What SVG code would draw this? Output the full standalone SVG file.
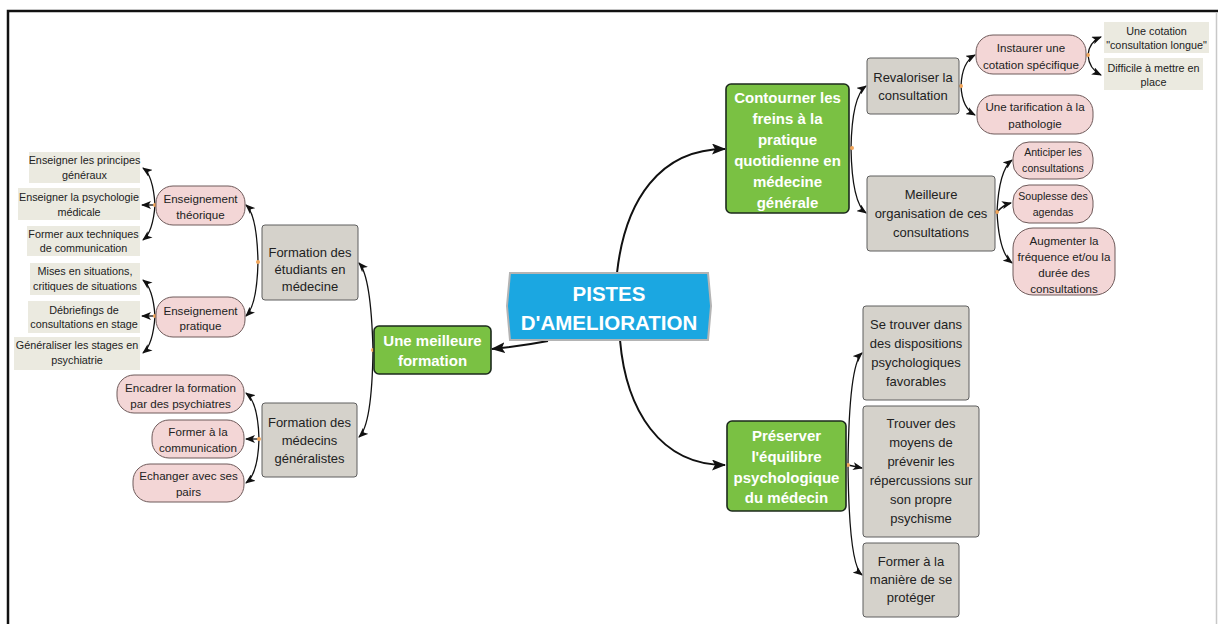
<svg xmlns="http://www.w3.org/2000/svg" width="1218" height="624" viewBox="0 0 1218 624">
<style>
text{font-family:"Liberation Sans",Arial,sans-serif;text-anchor:middle;dominant-baseline:central}
.g rect{fill:#7ac143;stroke:#1c2a1c;stroke-width:1.6}
.g text{fill:#fff;font-weight:bold;font-size:15px}
.b text{fill:#fff;font-weight:bold;font-size:20.5px}
.gr rect{fill:#d5d2cb;stroke:#5e5e5e;stroke-width:1}
.gr text{fill:#222;font-size:13px}
.p rect{fill:#f3d6d6;stroke:#6e5a5a;stroke-width:1}
.p text{fill:#222;font-size:11.6px}
.p.s text{font-size:10.6px}
.l rect{fill:#ebeae0}
.l text{fill:#222;font-size:10.8px}
.c path{fill:none;stroke:#111;stroke-width:1.3;marker-end:url(#a)}
.c path.m{stroke-width:2;marker-end:url(#am)}
.c circle{fill:#f2a65a}
</style>
<defs>
<marker id="a" markerUnits="userSpaceOnUse" markerWidth="10" markerHeight="8" refX="9" refY="4" orient="auto"><path d="M0,0 L10,4 L0,8 L2.5,4 z" fill="#111"/></marker>
<marker id="am" markerUnits="userSpaceOnUse" markerWidth="14" markerHeight="11" refX="13" refY="5.5" orient="auto"><path d="M0,0 L14,5.5 L0,11 L3,5.5 z" fill="#111"/></marker>
</defs>
<rect width="1218" height="624" fill="#fff"/>
<path d="M8,624 L8,11 L1218,11" fill="none" stroke="#111" stroke-width="2.5"/>
<path d="M1216.5,12 L1216.5,624" fill="none" stroke="#c8c8c8" stroke-width="1.5"/>

<g class="c" id="connectors">
<path class="m" d="M617,273 C625,200 660,149 725,149"/>
<path class="m" d="M620,340 C626,410 660,465 725,465"/>
<path class="m" d="M548,341 Q522,346 492,349"/>
<path d="M373,350 Q371,276 359,263"/>
<path d="M373,350 Q372,425 359,437"/>
<path d="M258,262 Q257,215 246,205"/>
<path d="M258,262 Q257,305 246,316"/>
<path d="M155,205 Q153,175 143,168"/>
<path d="M155,205 L142,205"/>
<path d="M155,205 Q153,232 143,240"/>
<path d="M155,316 Q153,288 143,280"/>
<path d="M155,316 L142,316"/>
<path d="M155,316 Q153,345 143,353"/>
<path d="M259,439 Q258,402 246,393"/>
<path d="M259,439 L246,439"/>
<path d="M259,439 Q258,474 246,483"/>
<path d="M851,148 Q852,96 866,86"/>
<path d="M851,148 Q852,203 866,213"/>
<path d="M961,86 Q962,62 975,55"/>
<path d="M961,86 Q962,108 975,115"/>
<path d="M1088,55 Q1089,42 1101,37"/>
<path d="M1088,55 Q1089,69 1101,75"/>
<path d="M997,212 Q999,170 1012,160"/>
<path d="M997,212 Q1003,205 1011,203"/>
<path d="M997,212 Q999,253 1012,263"/>
<path d="M848,465 Q849,365 862,353"/>
<path d="M848,465 L862,468"/>
<path d="M848,465 Q849,565 862,575"/>
<circle cx="373" cy="350" r="2"/>
<circle cx="258" cy="262" r="2"/>
<circle cx="155" cy="205" r="2"/>
<circle cx="155" cy="316" r="2"/>
<circle cx="259" cy="439" r="2"/>
<circle cx="852" cy="148" r="2"/>
<circle cx="961" cy="86" r="2"/>
<circle cx="1088" cy="55" r="2"/>
<circle cx="997" cy="212" r="2"/>
<circle cx="848" cy="465" r="2"/>
</g>

<g id="center" class="b">
<polygon points="510,273 708,273 711,306 708,340 510,340 507,306" fill="#1ba7e1" stroke="#b4b4b4" stroke-width="2"/>
<text x="609" y="293">PISTES</text>
<text x="609" y="322">D'AMELIORATION</text>
</g>

<g id="formation" class="g">
<rect x="374" y="326" width="117" height="48" rx="5"/>
<text x="432.5" y="340">Une meilleure</text>
<text x="432.5" y="360">formation</text>
</g>
<g id="contourner" class="g">
<rect x="726" y="84" width="123" height="129" rx="5"/>
<text x="787.5" y="97">Contourner les</text>
<text x="787.5" y="118">freins à la</text>
<text x="787.5" y="139">pratique</text>
<text x="787.5" y="160">quotidienne en</text>
<text x="787.5" y="181">médecine</text>
<text x="787.5" y="202">générale</text>
</g>
<g id="preserver" class="g">
<rect x="727" y="421" width="119" height="90" rx="5"/>
<text x="786.5" y="435">Préserver</text>
<text x="786.5" y="456">l'équilibre</text>
<text x="786.5" y="477">psychologique</text>
<text x="786.5" y="497">du médecin</text>
</g>

<g id="etudiants" class="gr">
<rect x="262" y="225" width="96" height="75" rx="3"/>
<text x="310" y="252">Formation des</text>
<text x="310" y="269">étudiants en</text>
<text x="310" y="286">médecine</text>
</g>
<g id="medecins" class="gr">
<rect x="262" y="403" width="95" height="74" rx="3"/>
<text x="309.5" y="422">Formation des</text>
<text x="309.5" y="440">médecins</text>
<text x="309.5" y="458">généralistes</text>
</g>
<g id="revaloriser" class="gr">
<rect x="867" y="58" width="92" height="56" rx="3"/>
<text x="913" y="77">Revaloriser la</text>
<text x="913" y="95">consultation</text>
</g>
<g id="organisation" class="gr">
<rect x="867" y="176" width="128" height="75" rx="3"/>
<text x="931" y="194">Meilleure</text>
<text x="931" y="213">organisation de ces</text>
<text x="931" y="232">consultations</text>
</g>
<g id="dispositions" class="gr">
<rect x="863" y="306" width="106" height="94" rx="3"/>
<text x="916" y="324">Se trouver dans</text>
<text x="916" y="343">des dispositions</text>
<text x="916" y="362">psychologiques</text>
<text x="916" y="381">favorables</text>
</g>
<g id="moyens" class="gr">
<rect x="863" y="406" width="116" height="131" rx="3"/>
<text x="921" y="423">Trouver des</text>
<text x="921" y="442">moyens de</text>
<text x="921" y="461">prévenir les</text>
<text x="921" y="480">répercussions sur</text>
<text x="921" y="499">son propre</text>
<text x="921" y="518">psychisme</text>
</g>
<g id="proteger" class="gr">
<rect x="863" y="543" width="96" height="74" rx="3"/>
<text x="911" y="561">Former à la</text>
<text x="911" y="579">manière de se</text>
<text x="911" y="597">protéger</text>
</g>

<g id="theorique" class="p">
<rect x="156" y="186" width="89" height="39" rx="17"/>
<text x="200.5" y="198">Enseignement</text>
<text x="200.5" y="214">théorique</text>
</g>
<g id="pratique" class="p">
<rect x="156" y="297" width="89" height="40" rx="17"/>
<text x="200.5" y="310">Enseignement</text>
<text x="200.5" y="325">pratique</text>
</g>
<g id="encadrer" class="p">
<rect x="117" y="375" width="127" height="38" rx="17"/>
<text x="180.5" y="387">Encadrer la formation</text>
<text x="180.5" y="403">par des psychiatres</text>
</g>
<g id="communication" class="p">
<rect x="152" y="420" width="92" height="38" rx="17"/>
<text x="198" y="431">Former à la</text>
<text x="198" y="447">communication</text>
</g>
<g id="echanger" class="p">
<rect x="133" y="464" width="111" height="38" rx="17"/>
<text x="188.5" y="475">Echanger avec ses</text>
<text x="188.5" y="491">pairs</text>
</g>
<g id="instaurer" class="p">
<rect x="976" y="35" width="110" height="39" rx="17"/>
<text x="1031" y="47">Instaurer une</text>
<text x="1031" y="64">cotation spécifique</text>
</g>
<g id="tarification" class="p">
<rect x="977" y="95" width="116" height="39" rx="17"/>
<text x="1035" y="106">Une tarification à la</text>
<text x="1035" y="123">pathologie</text>
</g>
<g id="anticiper" class="p s">
<rect x="1013" y="142" width="80" height="37" rx="16"/>
<text x="1053" y="152">Anticiper les</text>
<text x="1053" y="168">consultations</text>
</g>
<g id="souplesse" class="p s">
<rect x="1013" y="185" width="80" height="38" rx="16"/>
<text x="1053" y="196">Souplesse des</text>
<text x="1053" y="212">agendas</text>
</g>
<g id="augmenter" class="p">
<rect x="1013" y="228" width="102" height="67" rx="20"/>
<text x="1064" y="240">Augmenter la</text>
<text x="1064" y="256">fréquence et/ou la</text>
<text x="1064" y="272">durée des</text>
<text x="1064" y="288">consultations</text>
</g>

<g id="principes" class="l">
<rect x="29" y="152" width="111" height="31"/>
<text x="84.5" y="160">Enseigner les principes</text>
<text x="84.5" y="175">généraux</text>
</g>
<g id="psychologie" class="l">
<rect x="18" y="188" width="122" height="32"/>
<text x="79" y="197">Enseigner la psychologie</text>
<text x="79" y="212">médicale</text>
</g>
<g id="techniques" class="l">
<rect x="27" y="226" width="113" height="30"/>
<text x="83.5" y="234">Former aux techniques</text>
<text x="83.5" y="248">de communication</text>
</g>
<g id="mises" class="l">
<rect x="30" y="263" width="110" height="32"/>
<text x="85" y="271">Mises en situations,</text>
<text x="85" y="286">critiques de situations</text>
</g>
<g id="debriefings" class="l">
<rect x="28" y="301" width="112" height="32"/>
<text x="84" y="310">Débriefings de</text>
<text x="84" y="324">consultations en stage</text>
</g>
<g id="stages" class="l">
<rect x="14" y="337" width="126" height="33"/>
<text x="77" y="345">Généraliser les stages en</text>
<text x="77" y="360">psychiatrie</text>
</g>
<g id="longue" class="l">
<rect x="1104" y="22" width="105" height="31"/>
<text x="1156.5" y="31">Une cotation</text>
<text x="1156.5" y="45">"consultation longue"</text>
</g>
<g id="difficile" class="l">
<rect x="1104" y="58" width="99" height="32"/>
<text x="1153.5" y="68">Difficile à mettre en</text>
<text x="1153.5" y="82">place</text>
</g>
</svg>
